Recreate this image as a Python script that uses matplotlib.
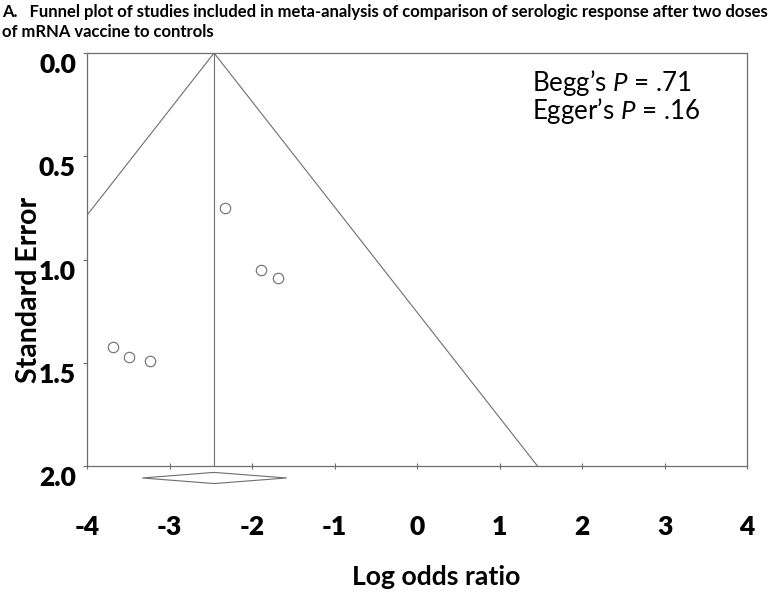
import matplotlib
matplotlib.use("Agg")
import matplotlib.pyplot as plt
import matplotlib.transforms as mtransforms
from matplotlib.patches import Polygon

# ---- data ----
log_or = [-2.33, -1.89, -1.685, -3.685, -3.49, -3.236]
std_err = [0.749, 1.05, 1.089, 1.422, 1.471, 1.49]
pooled = -2.46
ci_low, ci_high = -3.33, -1.58
x_ticks = [-4, -3, -2, -1, 0, 1, 2, 3, 4]
y_ticks = [0.0, 0.5, 1.0, 1.5, 2.0]
y_tick_labels = ["0.0", "0.5", "1.0", "1.5", "2.0"]
title_line1 = "A.   Funnel plot of studies included in meta-analysis of comparison of serologic response after two doses"
title_line2 = "of mRNA vaccine to controls"
stats_lines = ["Begg\u2019s $\\it{P}$ = .71", "Egger\u2019s $\\it{P}$ = .16"]

plt.rcParams['font.family'] = ['Lato', 'DejaVu Sans']
plt.rcParams['mathtext.fontset'] = 'custom'
plt.rcParams['mathtext.it'] = 'Lato:italic'
plt.rcParams['mathtext.rm'] = 'Lato'

W, H = 773, 595
fig = plt.figure(figsize=(W / 100, H / 100), dpi=100)
ax = fig.add_axes([87 / W, 1 - 466 / H, (747 - 87) / W, (466 - 53) / H])

gray = '#6e6e6e'
ax.set_xlim(-4, 4)
ax.set_ylim(2, 0)

# funnel
se_max = 2.0
ax.plot([pooled - 1.96 * se_max, pooled, pooled + 1.96 * se_max], [se_max, 0, se_max],
        color=gray, lw=0.8)
ax.plot([pooled, pooled], [0, se_max], color=gray, lw=0.8)

# studies
ax.plot(log_or, std_err, 'o', ms=7.5, mfc='white', mec=gray, mew=0.8, linestyle='none')

# diamond (pooled estimate)
dy_c, dh = 2.058, 0.027
diamond = Polygon([[ci_low, dy_c], [pooled, dy_c - dh], [ci_high, dy_c], [pooled, dy_c + dh]],
                  closed=True, fill=False, edgecolor=gray, lw=0.8, clip_on=False)
ax.add_patch(diamond)

for s in ax.spines.values():
    s.set_color(gray)
    s.set_linewidth(0.9)

ax.set_xticks(x_ticks)
ax.set_xticklabels([str(t) for t in x_ticks])
ax.set_yticks(y_ticks)
ax.set_yticklabels(y_tick_labels)
ax.tick_params(axis='x', direction='inout', length=5, width=0.8, color=gray,
               labelsize=19, pad=33)
ax.tick_params(axis='y', direction='out', length=3, width=0.8, color=gray,
               labelsize=19, pad=5)
for lab in ax.get_xticklabels() + ax.get_yticklabels():
    lab.set_fontweight('heavy')
offset = mtransforms.ScaledTranslation(0, -10 / 100, fig.dpi_scale_trans)
for lab in ax.get_yticklabels():
    lab.set_transform(lab.get_transform() + offset)

xl = fig.text(436 / W, 1 - 577 / H, "Log odds ratio", fontsize=20, fontweight='bold',
              ha='center', va='center')
yl = fig.text(29 / W, 1 - 290 / H, "Standard Error", fontsize=20, fontweight='bold',
              ha='center', va='center', rotation=90)

s1 = fig.text(532 / W, 1 - 91 / H, stats_lines[0], fontsize=17, va='baseline', ha='left')
s2 = fig.text(532 / W, 1 - 119 / H, stats_lines[1], fontsize=17, va='baseline', ha='left')

t1 = fig.text(2 / W, 1 - 12 / H, title_line1, fontsize=11, fontweight='bold', va='center', ha='left')
t2 = fig.text(2 / W, 1 - 32 / H, title_line2, fontsize=11, fontweight='bold', va='center', ha='left')

# fit text sizes to the reference extents (pixels)
fig.canvas.draw()
r = fig.canvas.get_renderer()

def fit(t, target, dim):
    bb = t.get_window_extent(r)
    cur = bb.width if dim == 'w' else bb.height
    return t.get_fontsize() * target / cur

fs_title = fit(t1, 768, 'w')
t1.set_fontsize(fs_title)
t2.set_fontsize(fs_title)
fs_stats = fit(s1, 160, 'w')
s1.set_fontsize(fs_stats)
s2.set_fontsize(fs_stats)
xl.set_fontsize(fit(xl, 169, 'w'))
yl.set_fontsize(fit(yl, 186, 'h'))

fig.savefig('out.png', dpi=100)
